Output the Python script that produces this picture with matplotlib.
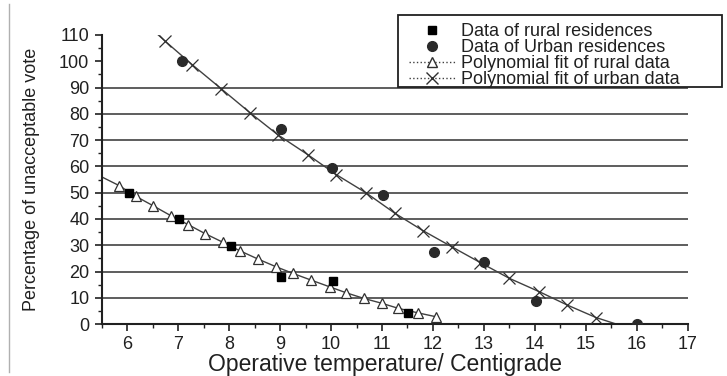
import matplotlib.pyplot as plt
from matplotlib.lines import Line2D
from matplotlib.patches import Rectangle
from matplotlib.ticker import MultipleLocator

# measured data
rural_x = [6.04, 7.02, 8.04, 9.02, 10.03, 11.51]
rural_y = [49.9, 40.0, 29.9, 18.1, 16.3, 4.1]

urban_x = [7.07, 9.02, 10.02, 11.02, 12.02, 13.01, 14.03, 16.0]
urban_y = [100.0, 74.4, 59.4, 49.2, 27.6, 23.8, 8.8, 0.0]

# polynomial fit of rural data (marker positions)
rfit_x = [5.84, 6.17, 6.51, 6.86, 7.2, 7.53, 7.87, 8.21, 8.56, 8.91,
          9.25, 9.6, 9.97, 10.3, 10.64, 11.0, 11.32, 11.7, 12.06]
rfit_y = [52.7, 48.6, 45.0, 41.2, 37.8, 34.4, 31.2, 27.9, 24.8, 21.9,
          19.3, 16.8, 14.2, 11.9, 9.8, 7.9, 6.0, 4.3, 2.8]
rfit_start = (5.5, 56.0)

# polynomial fit of urban data (marker positions)
ufit_x = [6.74, 7.28, 7.84, 8.41, 8.95, 9.54, 10.1, 10.69, 11.25, 11.8,
          12.38, 12.93, 13.5, 14.09, 14.63, 15.2]
ufit_y = [107.7, 98.6, 89.6, 80.4, 72.1, 64.5, 56.9, 49.9, 42.2, 35.6,
          29.3, 23.4, 17.4, 12.3, 7.3, 2.5]
ufit_start = (6.61, 110.0)
ufit_end = (15.6, 0.0)

xticks = list(range(6, 18))
yticks = list(range(0, 111, 10))

plt.rcParams['font.family'] = ['Liberation Sans', 'DejaVu Sans']

fig = plt.figure(figsize=(7.27, 3.76), dpi=100)
ax = fig.add_axes([0.140, 0.138, 0.806, 0.769])

# grid lines 10..100 (100 stops at legend box)
for v in yticks[1:10]:
    xe = 17.0 if v < 100 else 11.3
    ax.plot([5.5, xe], [v, v], color='#505050', lw=1.3, zorder=1)

lc = '#404040'
ax.plot([rfit_start[0]] + rfit_x, [rfit_start[1]] + rfit_y, color=lc, lw=1.0, zorder=2)
ax.plot(rfit_x, rfit_y, ls='none', marker='^', ms=7, mfc='white', mec='#303030', mew=0.9, zorder=3)
ax.plot([ufit_start[0]] + ufit_x + [ufit_end[0]], [ufit_start[1]] + ufit_y + [ufit_end[1]],
        color=lc, lw=1.0, zorder=2)
ax.plot(ufit_x, ufit_y, ls='none', marker='x', ms=8, mec='#303030', mew=0.9, zorder=3)

ax.plot(rural_x, rural_y, ls='none', marker='s', ms=6, color='black', zorder=4)
ax.plot(urban_x, urban_y, ls='none', marker='o', ms=7, color='#2a2a2a', zorder=4)

ax.set_xlim(5.5, 17)
ax.set_ylim(0, 110)
ax.set_xticks(xticks)
ax.set_yticks(yticks)
ax.xaxis.set_minor_locator(MultipleLocator(0.5))
ax.yaxis.set_minor_locator(MultipleLocator(5))
ax.tick_params(axis='both', which='major', labelsize=13, length=5, width=1.2,
               direction='out', color='#202020', labelcolor='#202020')
ax.tick_params(axis='y', which='major', pad=4)
ax.tick_params(axis='both', which='minor', length=3, width=1.0, direction='out', color='#202020')
for s in ['top', 'right']:
    ax.spines[s].set_visible(False)
for s in ['left', 'bottom']:
    ax.spines[s].set_linewidth(1.5)
    ax.spines[s].set_color('#202020')

ax.set_xlabel('Operative temperature/ Centigrade', fontsize=16.5, color='#202020', labelpad=0)
ax.xaxis.label.set_x(0.483)
ax.set_ylabel('Percentage of unacceptable vote', fontsize=13, color='#202020', labelpad=14)

# legend box
fig.add_artist(Rectangle((0.547, 0.769), 0.446, 0.191, transform=fig.transFigure,
                         fill=True, facecolor='white', edgecolor='#202020', lw=1.3, zorder=5))

handles = [
    Line2D([], [], ls='none', marker='s', ms=6, color='black'),
    Line2D([], [], ls='none', marker='o', ms=7, color='#2a2a2a'),
    Line2D([], [], ls=':', color=lc, lw=1.0, marker='^', ms=7, mfc='white', mec='#303030'),
    Line2D([], [], ls=':', color=lc, lw=1.0, marker='x', ms=8, mec='#303030'),
]
labels = ['Data of rural residences', 'Data of Urban residences',
          'Polynomial fit of rural data', 'Polynomial fit of urban data']
leg = fig.legend(handles, labels, loc='upper left', bbox_to_anchor=(0.562, 0.939),
                 fontsize=13, frameon=False,
                 handlelength=2.6, handletextpad=0.3, labelspacing=-0.05,
                 borderpad=0.0, borderaxespad=0)
leg.set_zorder(6)
for t in leg.get_texts():
    t.set_color('#202020')

# scan border line on the left
fig.add_artist(Line2D([0.013, 0.013], [0.01, 0.99], color='#b0b0b0', lw=1.0))

fig.savefig('out.png', dpi=100)
